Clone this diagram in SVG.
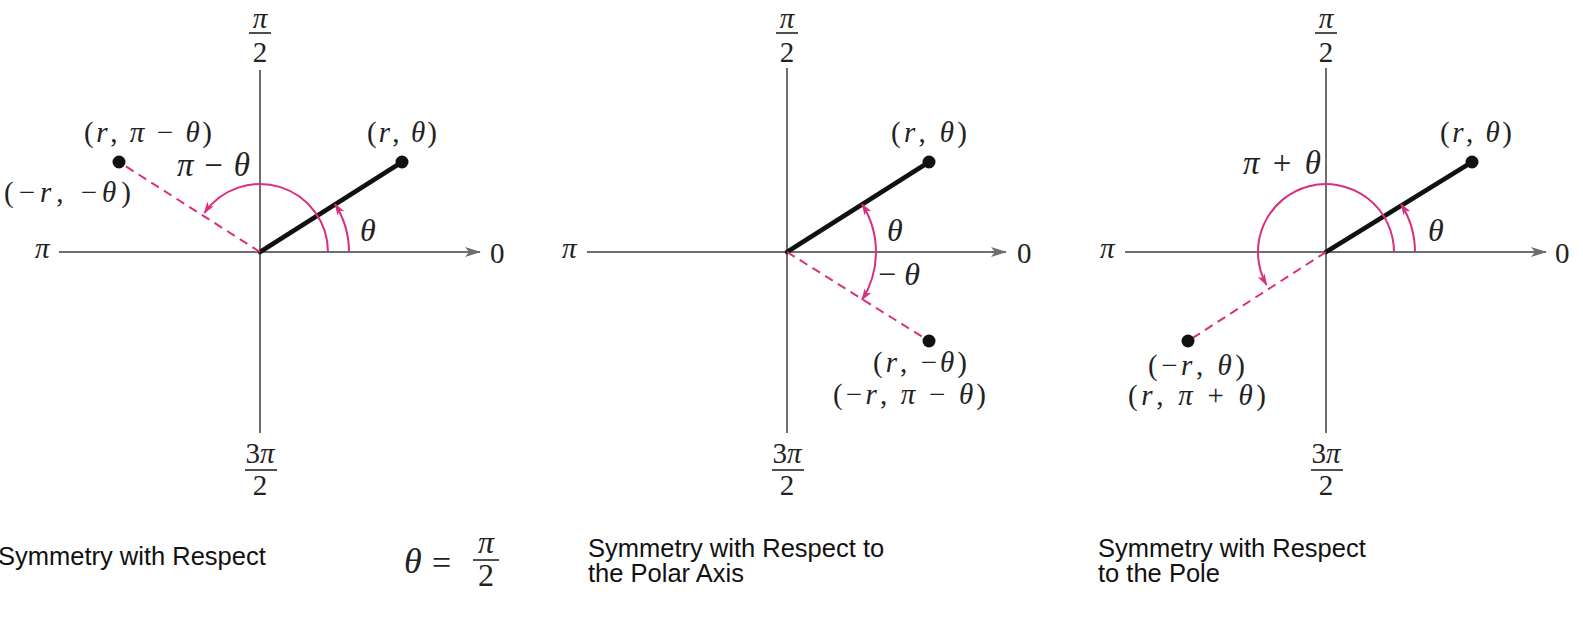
<svg xmlns="http://www.w3.org/2000/svg" width="1583" height="621" viewBox="0 0 1583 621">
<style>
  .ax{stroke:#6e6e6e;stroke-width:2;fill:none}
  .ray{stroke:#111;stroke-width:4.5;stroke-linecap:round;fill:none}
  .dash{stroke:#d8307f;stroke-width:2;stroke-dasharray:9 6;fill:none}
  .arc{stroke:#d8307f;stroke-width:2;fill:none}
  .pt{fill:#111}
  .m{font-family:"Liberation Serif","Times New Roman",serif;font-size:29px;fill:#222}
  .big{font-size:33px}
  .th{font-size:32px}
  .i{font-style:italic}
  .bar{stroke:#222;stroke-width:1.6}
  .cap{font-family:"Liberation Sans",Arial,sans-serif;font-size:25.5px;fill:#111}
</style>
<defs>
  <marker id="ah" viewBox="0 0 12 8" refX="11" refY="4" markerUnits="userSpaceOnUse" markerWidth="12" markerHeight="8" orient="auto-start-reverse">
    <path d="M0,0 L12,4 L0,8 L3,4 Z" fill="#d8307f"/>
  </marker>
  <marker id="axh" viewBox="0 0 16 10" refX="15" refY="5" markerUnits="userSpaceOnUse" markerWidth="16" markerHeight="10" orient="auto">
    <path d="M0,0 L16,5 L0,10 L4,5 Z" fill="#6e6e6e"/>
  </marker>
</defs>
<rect width="1583" height="621" fill="#fff"/>

<!-- Panel 1 -->
<g id="panel1" transform="translate(2,0)">
  <g id="p1-axes">
    <line class="ax" x1="57" y1="252" x2="478" y2="252" marker-end="url(#axh)"/>
    <line class="ax" x1="258" y1="70" x2="258" y2="433"/>
    <text class="m" x="33" y="258"><tspan class="i">π</tspan></text>
    <text class="m" x="488" y="263">0</text>
    <text class="m" x="258" y="28" text-anchor="middle"><tspan class="i">π</tspan></text>
    <line class="bar" x1="247" y1="33" x2="269" y2="33"/>
    <text class="m" x="258" y="62" text-anchor="middle">2</text>
    <text class="m" x="258" y="463" text-anchor="middle">3<tspan class="i">π</tspan></text>
    <line class="bar" x1="243" y1="470" x2="275" y2="470"/>
    <text class="m" x="258" y="495" text-anchor="middle">2</text>
  </g>
  <g id="p1-connectors">
    <line class="ray" x1="258" y1="252" x2="400" y2="162"/>
    <line class="dash" x1="258" y1="252" x2="117" y2="162"/>
    <path class="arc" d="M347,252 A89,89 0 0 0 333,204.1" marker-end="url(#ah)"/>
    <path class="arc" d="M326,252 A68,68 0 0 0 202.3,213" marker-end="url(#ah)"/>
  </g>
  <g id="p1-pt-r-theta">
    <circle class="pt" cx="400" cy="162" r="6.5"/>
    <text class="m" x="365" y="142" textLength="70" lengthAdjust="spacing">(<tspan class="i">r</tspan>, <tspan class="i">θ</tspan>)</text>
  </g>
  <g id="p1-pt-reflect">
    <circle class="pt" cx="117" cy="162" r="6.5"/>
    <text class="m" x="82" y="142" textLength="128" lengthAdjust="spacing">(<tspan class="i">r</tspan>, <tspan class="i">π</tspan> − <tspan class="i">θ</tspan>)</text>
    <text class="m" x="2" y="202" textLength="127" lengthAdjust="spacing">(−<tspan class="i">r</tspan>, −<tspan class="i">θ</tspan>)</text>
  </g>
  <g id="p1-angle-labels">
    <text class="m big" x="175" y="176" textLength="73" lengthAdjust="spacing"><tspan class="i">π</tspan> − <tspan class="i">θ</tspan></text>
    <text class="m th i" x="358" y="241">θ</text>
  </g>
</g>

<!-- Panel 2 -->
<g id="panel2" transform="translate(2,0)">
  <g id="p2-axes">
    <line class="ax" x1="585" y1="252" x2="1004" y2="252" marker-end="url(#axh)"/>
    <line class="ax" x1="785" y1="68" x2="785" y2="433"/>
    <text class="m" x="560" y="258"><tspan class="i">π</tspan></text>
    <text class="m" x="1015" y="263">0</text>
    <text class="m" x="785" y="28" text-anchor="middle"><tspan class="i">π</tspan></text>
    <line class="bar" x1="774" y1="33" x2="796" y2="33"/>
    <text class="m" x="785" y="62" text-anchor="middle">2</text>
    <text class="m" x="785" y="463" text-anchor="middle">3<tspan class="i">π</tspan></text>
    <line class="bar" x1="770" y1="470" x2="802" y2="470"/>
    <text class="m" x="785" y="495" text-anchor="middle">2</text>
  </g>
  <g id="p2-connectors">
    <line class="ray" x1="785" y1="252" x2="927" y2="162"/>
    <line class="dash" x1="785" y1="252" x2="927" y2="341"/>
    <path class="arc" d="M860,299.9 A89,89 0 0 0 860,204.1" marker-start="url(#ah)" marker-end="url(#ah)"/>
  </g>
  <g id="p2-pt-r-theta">
    <circle class="pt" cx="927" cy="162" r="6.5"/>
    <text class="m" x="889" y="142" textLength="76" lengthAdjust="spacing">(<tspan class="i">r</tspan>, <tspan class="i">θ</tspan>)</text>
  </g>
  <g id="p2-pt-reflect">
    <circle class="pt" cx="927" cy="341" r="6.5"/>
    <text class="m" x="871" y="372" textLength="94" lengthAdjust="spacing">(<tspan class="i">r</tspan>, −<tspan class="i">θ</tspan>)</text>
    <text class="m" x="831" y="404" textLength="153" lengthAdjust="spacing">(−<tspan class="i">r</tspan>, <tspan class="i">π</tspan> − <tspan class="i">θ</tspan>)</text>
  </g>
  <g id="p2-angle-labels">
    <text class="m th i" x="885" y="241">θ</text>
    <text class="m th" x="876" y="285" textLength="42" lengthAdjust="spacing">−<tspan class="i">θ</tspan></text>
  </g>
</g>

<!-- Panel 3 -->
<g id="panel3">
  <g id="p3-axes">
    <line class="ax" x1="1125" y1="252" x2="1546" y2="252" marker-end="url(#axh)"/>
    <line class="ax" x1="1326" y1="68" x2="1326" y2="433"/>
    <text class="m" x="1100" y="258"><tspan class="i">π</tspan></text>
    <text class="m" x="1555" y="263">0</text>
    <text class="m" x="1326" y="28" text-anchor="middle"><tspan class="i">π</tspan></text>
    <line class="bar" x1="1315" y1="33" x2="1337" y2="33"/>
    <text class="m" x="1326" y="62" text-anchor="middle">2</text>
    <text class="m" x="1326" y="463" text-anchor="middle">3<tspan class="i">π</tspan></text>
    <line class="bar" x1="1311" y1="470" x2="1343" y2="470"/>
    <text class="m" x="1326" y="495" text-anchor="middle">2</text>
  </g>
  <g id="p3-connectors">
    <line class="ray" x1="1326" y1="252" x2="1472" y2="162"/>
    <line class="dash" x1="1326" y1="252" x2="1188" y2="341"/>
    <path class="arc" d="M1415,252 A89,89 0 0 0 1401,204.1" marker-end="url(#ah)"/>
    <path class="arc" d="M1394,252 A68,68 0 1 0 1266.5,285" marker-end="url(#ah)"/>
  </g>
  <g id="p3-pt-r-theta">
    <circle class="pt" cx="1472" cy="162" r="6.5"/>
    <text class="m" x="1440" y="142" textLength="72" lengthAdjust="spacing">(<tspan class="i">r</tspan>, <tspan class="i">θ</tspan>)</text>
  </g>
  <g id="p3-pt-reflect">
    <circle class="pt" cx="1188" cy="341" r="6.5"/>
    <text class="m" x="1148" y="375" textLength="97" lengthAdjust="spacing">(−<tspan class="i">r</tspan>, <tspan class="i">θ</tspan>)</text>
    <text class="m" x="1128" y="405" textLength="138" lengthAdjust="spacing">(<tspan class="i">r</tspan>, <tspan class="i">π</tspan> + <tspan class="i">θ</tspan>)</text>
  </g>
  <g id="p3-angle-labels">
    <text class="m big" x="1243" y="174" textLength="78" lengthAdjust="spacing"><tspan class="i">π</tspan> + <tspan class="i">θ</tspan></text>
    <text class="m th i" x="1428" y="241">θ</text>
  </g>
</g>

<!-- Captions -->
<g id="captions">
  <text class="cap" x="-2" y="565">Symmetry with Respect</text>
  <g id="eq">
    <text class="m i" x="404" y="573" style="font-size:36px">θ</text>
    <text class="m" x="432" y="574" style="font-size:34px">=</text>
    <text class="m i" x="486" y="553" text-anchor="middle" style="font-size:32px">π</text>
    <line class="bar" x1="473" y1="560" x2="499" y2="560"/>
    <text class="m" x="486" y="586" text-anchor="middle" style="font-size:32px">2</text>
  </g>
  <text class="cap" x="588" y="557">Symmetry with Respect to</text>
  <text class="cap" x="588" y="582">the Polar Axis</text>
  <text class="cap" x="1098" y="557">Symmetry with Respect</text>
  <text class="cap" x="1098" y="582">to the Pole</text>
</g>
</svg>
